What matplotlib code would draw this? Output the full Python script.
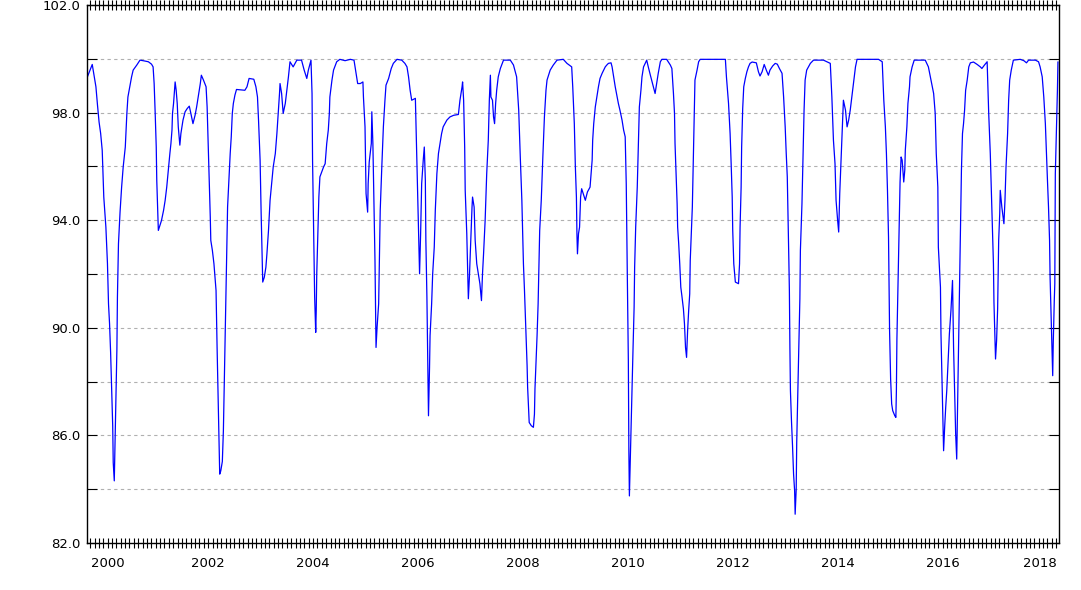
import numpy as np
import matplotlib
matplotlib.use("Agg")
import matplotlib.pyplot as plt
import matplotlib.transforms as mtransforms
from matplotlib.ticker import MultipleLocator, FixedLocator, FormatStrFormatter

# time in decimal years
years = [
    1999.70, 1999.79, 1999.83, 1999.86, 1999.89, 1999.92, 1999.95, 1999.98,
    2000.01, 2000.05, 2000.08, 2000.10, 2000.12, 2000.14, 2000.16, 2000.18, 2000.19, 2000.21,
    2000.22, 2000.24, 2000.26, 2000.27, 2000.29, 2000.32, 2000.35, 2000.38, 2000.42, 2000.45,
    2000.47, 2000.50, 2000.54, 2000.57, 2000.64, 2000.70, 2000.76, 2000.86, 2000.92, 2000.95,
    2000.97, 2000.99,
    2001.01, 2001.02, 2001.05, 2001.08, 2001.11, 2001.15, 2001.18, 2001.21, 2001.24, 2001.27,
    2001.29, 2001.31, 2001.32, 2001.34, 2001.37, 2001.39, 2001.41, 2001.43, 2001.46, 2001.48,
    2001.52, 2001.56, 2001.60, 2001.64, 2001.67, 2001.71, 2001.75, 2001.78, 2001.81, 2001.85,
    2001.87, 2001.91, 2001.96, 2001.98,
    2002.00, 2002.02, 2002.04, 2002.05, 2002.08, 2002.11, 2002.15, 2002.17, 2002.19, 2002.21,
    2002.22, 2002.24, 2002.27, 2002.29, 2002.31, 2002.33, 2002.35, 2002.37, 2002.40, 2002.42,
    2002.44, 2002.46, 2002.48, 2002.51, 2002.54, 2002.70, 2002.74, 2002.78, 2002.87, 2002.91,
    2002.94, 2002.96, 2002.99,
    2003.01, 2003.03, 2003.04, 2003.07, 2003.10, 2003.12, 2003.15, 2003.18, 2003.21, 2003.24,
    2003.28, 2003.31, 2003.34, 2003.36, 2003.37, 2003.40, 2003.43, 2003.47, 2003.50, 2003.53,
    2003.56, 2003.62, 2003.69, 2003.78, 2003.83, 2003.88, 2003.91, 2003.96, 2003.98, 2003.99,
    2004.01, 2004.03, 2004.05, 2004.06, 2004.07, 2004.09, 2004.11, 2004.13, 2004.20, 2004.23,
    2004.26, 2004.29, 2004.31, 2004.32, 2004.36, 2004.39, 2004.45, 2004.51, 2004.61, 2004.71,
    2004.78, 2004.82, 2004.85, 2004.90, 2004.95, 2004.96, 2004.99,
    2005.01, 2005.04, 2005.05, 2005.07, 2005.11, 2005.12, 2005.14, 2005.16, 2005.18, 2005.20,
    2005.22, 2005.25, 2005.28, 2005.31, 2005.34, 2005.37, 2005.39, 2005.44, 2005.49, 2005.53,
    2005.60, 2005.69, 2005.75, 2005.79, 2005.82, 2005.85, 2005.88, 2005.95, 2005.96, 2005.98,
    2006.00, 2006.02, 2006.03, 2006.05, 2006.07, 2006.10, 2006.12, 2006.14, 2006.15, 2006.17,
    2006.19, 2006.20, 2006.22, 2006.23, 2006.26, 2006.28, 2006.31, 2006.33, 2006.36, 2006.39,
    2006.42, 2006.45, 2006.48, 2006.55, 2006.61, 2006.68, 2006.77, 2006.80, 2006.84, 2006.85,
    2006.87, 2006.89, 2006.90, 2006.93, 2006.95, 2006.96, 2006.98,
    2007.01, 2007.03, 2007.04, 2007.07, 2007.09, 2007.12, 2007.15, 2007.18, 2007.21, 2007.23,
    2007.25, 2007.28, 2007.31, 2007.34, 2007.36, 2007.38, 2007.39, 2007.42, 2007.44, 2007.46,
    2007.48, 2007.50, 2007.53, 2007.57, 2007.63, 2007.76, 2007.82, 2007.88, 2007.92, 2007.95,
    2007.98,
    2008.01, 2008.03, 2008.05, 2008.08, 2008.09, 2008.11, 2008.12, 2008.16, 2008.20, 2008.22,
    2008.23, 2008.25, 2008.27, 2008.29, 2008.32, 2008.35, 2008.38, 2008.41, 2008.44, 2008.46,
    2008.52, 2008.58, 2008.65, 2008.77, 2008.84, 2008.93, 2008.95, 2008.98,
    2009.00, 2009.02, 2009.03, 2009.04, 2009.06, 2009.08, 2009.10, 2009.12, 2009.15, 2009.19,
    2009.23, 2009.28, 2009.30, 2009.32, 2009.33, 2009.35, 2009.38, 2009.41, 2009.44, 2009.47,
    2009.51, 2009.54, 2009.57, 2009.60, 2009.63, 2009.68, 2009.70, 2009.73, 2009.76, 2009.79,
    2009.82, 2009.85, 2009.89, 2009.92, 2009.95, 2009.97, 2009.98, 2009.99,
    2010.01, 2010.02, 2010.03, 2010.04, 2010.06, 2010.08, 2010.10, 2010.12, 2010.13, 2010.15,
    2010.18, 2010.20, 2010.22, 2010.25, 2010.27, 2010.30, 2010.33, 2010.36, 2010.39, 2010.43,
    2010.48, 2010.52, 2010.55, 2010.58, 2010.62, 2010.65, 2010.74, 2010.81, 2010.84, 2010.87,
    2010.89, 2010.90, 2010.92, 2010.94, 2010.95, 2010.97, 2010.99,
    2011.01, 2011.03, 2011.06, 2011.08, 2011.10, 2011.12, 2011.14, 2011.16, 2011.18, 2011.19,
    2011.21, 2011.23, 2011.25, 2011.27, 2011.28, 2011.32, 2011.35, 2011.38, 2011.86, 2011.88,
    2011.90, 2011.92, 2011.95, 2011.97, 2011.99,
    2012.00, 2012.02, 2012.05, 2012.11, 2012.13, 2012.14, 2012.16, 2012.17, 2012.19, 2012.21,
    2012.24, 2012.27, 2012.30, 2012.33, 2012.37, 2012.45, 2012.49, 2012.52, 2012.56, 2012.60,
    2012.64, 2012.68, 2012.71, 2012.76, 2012.81, 2012.85, 2012.89, 2012.94, 2012.97,
    2013.00, 2013.02, 2013.04, 2013.06, 2013.07, 2013.08, 2013.09, 2013.10, 2013.12, 2013.14,
    2013.16, 2013.18, 2013.19, 2013.21, 2013.22, 2013.24, 2013.26, 2013.28, 2013.29, 2013.32,
    2013.34, 2013.36, 2013.38, 2013.41, 2013.48, 2013.54, 2013.73, 2013.86, 2013.89, 2013.92,
    2013.95, 2013.97,
    2014.00, 2014.02, 2014.04, 2014.06, 2014.08, 2014.11, 2014.15, 2014.18, 2014.21, 2014.24,
    2014.27, 2014.30, 2014.34, 2014.37, 2014.78, 2014.85, 2014.88, 2014.91, 2014.93, 2014.95,
    2014.97, 2014.98, 2014.99,
    2015.01, 2015.03, 2015.05, 2015.09, 2015.11, 2015.12, 2015.13, 2015.15, 2015.17, 2015.19,
    2015.21, 2015.23, 2015.26, 2015.28, 2015.29, 2015.32, 2015.34, 2015.37, 2015.38, 2015.42,
    2015.46, 2015.67, 2015.73, 2015.78, 2015.83, 2015.86, 2015.88, 2015.91, 2015.92, 2015.96,
    2015.97, 2015.99,
    2016.01, 2016.02, 2016.04, 2016.06, 2016.08, 2016.11, 2016.13, 2016.16, 2016.19, 2016.21,
    2016.23, 2016.25, 2016.27, 2016.28, 2016.30, 2016.32, 2016.34, 2016.36, 2016.38, 2016.40,
    2016.42, 2016.44, 2016.47, 2016.50, 2016.53, 2016.59, 2016.66, 2016.72, 2016.75, 2016.80,
    2016.85, 2016.88, 2016.91, 2016.93, 2016.95, 2016.97, 2016.98,
    2017.00, 2017.01, 2017.03, 2017.05, 2017.07, 2017.09, 2017.10, 2017.13, 2017.17, 2017.19,
    2017.21, 2017.24, 2017.26, 2017.28, 2017.31, 2017.35, 2017.48, 2017.55, 2017.60, 2017.64,
    2017.77, 2017.83, 2017.86, 2017.90, 2017.93, 2017.96, 2017.98,
    2018.00, 2018.02, 2018.04, 2018.05, 2018.07, 2018.09, 2018.10, 2018.11, 2018.13, 2018.14,
    2018.15, 2018.17, 2018.19, 2018.20,
]

values = [
    99.34, 99.79, 99.31, 98.96, 98.28, 97.65, 97.23, 96.60,
    94.86, 93.74, 92.39, 90.89, 90.15, 89.09, 87.73, 86.36, 84.99, 84.31,
    85.32, 87.23, 89.21, 91.14, 93.13, 94.30, 95.23, 95.98, 96.72, 97.97,
    98.58, 98.90, 99.33, 99.58, 99.77, 99.95, 99.93, 99.89, 99.80, 99.70,
    99.08, 97.97,
    96.72, 95.48, 93.62, 93.81, 93.99, 94.37, 94.74, 95.23, 95.86, 96.48,
    96.85, 97.35, 97.97, 98.34, 99.14, 98.83, 98.34, 97.47, 96.79, 97.22,
    97.72, 98.03, 98.15, 98.24, 97.97, 97.59, 97.90, 98.21, 98.58, 99.08,
    99.39, 99.21, 98.96, 98.21,
    96.85, 95.48, 94.12, 93.25, 92.88, 92.38, 91.39, 89.27, 87.41, 85.49,
    84.56, 84.68, 85.03, 86.17, 88.22, 90.33, 92.38, 94.49, 95.73, 96.48,
    97.10, 97.97, 98.34, 98.65, 98.86, 98.83, 98.96, 99.27, 99.24, 98.96,
    98.58, 97.72, 96.23,
    94.24, 92.50, 91.70, 91.88, 92.25, 92.75, 93.62, 94.74, 95.36, 95.98,
    96.48, 97.22, 98.09, 98.71, 99.08, 98.71, 97.97, 98.34, 98.83, 99.33,
    99.89, 99.70, 99.95, 99.95, 99.58, 99.27, 99.58, 99.95, 98.71, 96.23,
    93.62, 91.14, 89.83, 90.64, 92.01, 93.50, 94.86, 95.61, 95.98, 96.10,
    96.85, 97.35, 97.97, 98.58, 99.21, 99.58, 99.89, 99.98, 99.93, 99.98,
    99.95, 99.46, 99.08, 99.08, 99.14, 98.58, 97.47,
    94.99, 94.30, 95.36, 96.16, 96.85, 98.03, 96.85, 94.74, 92.50, 89.27,
    90.02, 90.89, 94.37, 95.98, 97.47, 98.46, 99.02, 99.27, 99.64, 99.83,
    99.98, 99.95, 99.83, 99.70, 99.33, 98.83, 98.46, 98.53, 97.72, 96.10,
    94.49, 92.88, 92.01, 93.50, 95.36, 96.23, 96.72, 95.48, 93.25, 91.14,
    88.03, 86.73, 88.53, 89.71, 90.89, 92.01, 93.00, 94.37, 95.73, 96.48,
    96.85, 97.22, 97.47, 97.72, 97.84, 97.90, 97.93, 98.46, 98.96, 99.14,
    98.46, 96.72, 95.11, 93.50, 91.88, 91.08, 91.88,
    93.50, 94.49, 94.86, 94.49, 93.25, 92.38, 92.01, 91.64, 91.01, 92.01,
    92.75, 93.99, 95.73, 96.97, 98.46, 99.39, 98.58, 98.46, 97.84, 97.59,
    98.34, 98.83, 99.33, 99.64, 99.95, 99.95, 99.77, 99.33, 98.09, 96.35,
    94.74,
    92.38, 91.39, 90.27, 88.59, 87.79, 86.92, 86.48, 86.36, 86.30, 86.79,
    87.73, 88.72, 89.71, 90.89, 93.62, 94.74, 96.35, 97.84, 98.83, 99.21,
    99.58, 99.77, 99.95, 99.98, 99.83, 99.70, 98.96, 97.59,
    95.98, 94.86, 93.50, 92.75, 93.50, 93.74, 94.86, 95.17, 94.99, 94.74,
    95.05, 95.23, 95.73, 96.23, 96.97, 97.59, 98.21, 98.58, 98.96, 99.27,
    99.46, 99.58, 99.70, 99.77, 99.83, 99.85, 99.70, 99.33, 98.96, 98.65,
    98.34, 98.09, 97.72, 97.35, 97.10, 95.36, 93.50, 92.01,
    88.78, 85.43, 83.75, 84.56, 86.05, 87.66, 89.27, 90.76, 92.25, 93.74,
    95.23, 96.72, 98.21, 98.83, 99.33, 99.70, 99.83, 99.95, 99.70, 99.39,
    99.02, 98.71, 99.08, 99.46, 99.89, 99.98, 99.98, 99.77, 99.64, 98.71,
    97.97, 96.85, 95.73, 94.61, 93.74, 93.13, 92.38,
    91.51, 91.20, 90.70, 90.15, 89.27, 88.90, 89.90, 90.64, 91.26, 92.50,
    93.50, 94.49, 96.35, 98.21, 99.21, 99.58, 99.89, 99.98, 99.98, 99.33,
    98.83, 98.34, 97.22, 96.10, 94.86,
    93.62, 92.38, 91.70, 91.64, 92.38, 93.74, 95.23, 96.72, 98.15, 98.96,
    99.27, 99.52, 99.70, 99.83, 99.88, 99.85, 99.52, 99.36, 99.52, 99.79,
    99.58, 99.39, 99.58, 99.73, 99.83, 99.80, 99.64, 99.46, 98.58,
    97.47, 96.48, 95.61, 93.62, 92.50, 91.39, 89.27, 87.66, 86.54, 85.61,
    84.56, 83.94, 83.07, 84.00, 85.74, 87.54, 89.27, 91.08, 92.88, 94.62,
    96.35, 98.09, 99.21, 99.58, 99.83, 99.95, 99.95, 99.83, 98.58, 96.97,
    96.10, 94.74,
    93.99, 93.56, 94.99, 95.98, 96.97, 98.46, 98.09, 97.47, 97.72, 98.09,
    98.58, 99.08, 99.70, 99.98, 99.98, 99.89, 98.46, 97.47, 96.48, 95.11,
    93.37, 91.64, 89.90,
    88.10, 87.17, 86.92, 86.73, 86.67, 87.66, 89.59, 91.51, 93.50, 95.42,
    96.35, 96.23, 95.42, 95.86, 96.60, 97.47, 98.34, 98.96, 99.33, 99.70,
    99.95, 99.95, 99.70, 99.21, 98.71, 97.97, 96.48, 95.23, 93.00, 91.51,
    89.77, 88.03,
    86.36, 85.43, 86.30, 87.04, 87.66, 88.90, 89.77, 90.64, 91.76, 89.27,
    87.66, 86.05, 85.12, 86.36, 88.72, 91.08, 93.50, 95.86, 97.22, 97.59,
    98.09, 98.83, 99.21, 99.70, 99.85, 99.88, 99.79, 99.70, 99.64, 99.77,
    99.89, 97.97, 96.48, 95.11, 93.74, 92.38, 90.95,
    89.52, 88.84, 89.52, 90.70, 93.25, 94.24, 95.11, 94.49, 93.87, 94.74,
    95.98, 97.22, 98.46, 99.21, 99.58, 99.95, 99.98, 99.93, 99.85, 99.95,
    99.95, 99.89, 99.70, 99.33, 98.58, 97.59, 96.48,
    95.48, 94.49, 93.25, 91.88, 90.39, 88.97, 88.22, 89.40, 91.01, 91.64,
    95.73, 97.22, 98.83, 99.88,
]

year_labels = [2000, 2002, 2004, 2006, 2008, 2010, 2012, 2014, 2016, 2018]
y_labelled = [82, 86, 90, 94, 98, 102]
y_between = [84, 88, 92, 96, 100]

fig = plt.figure(figsize=(10.81, 5.90), dpi=100)
ax = fig.add_axes([87 / 1081, 1 - 543 / 590, (1059 - 87) / 1081, (543 - 5) / 590])

ax.plot(years, values, color="#0000ff", lw=0.9)

ax.set_xlim(1999.69, 2018.22)
ax.set_ylim(82, 102)

# x axis: label every 2 years, tick every month
ax.set_xticks(year_labels)
ax.set_xticklabels([str(y) for y in year_labels])
ax.xaxis.set_minor_locator(MultipleLocator(1 / 12))
ax.tick_params(axis="x", which="both", direction="inout", length=7.2, width=0.8,
               top=True, bottom=True, labelsize=9.5, pad=6.5)

# end labels are nudged inside the frame, as in the original
labs = ax.get_xticklabels()
labs[0].set_transform(labs[0].get_transform() +
                      mtransforms.ScaledTranslation(5 / 100, 0, fig.dpi_scale_trans))
labs[-1].set_transform(labs[-1].get_transform() +
                       mtransforms.ScaledTranslation(-8 / 100, 0, fig.dpi_scale_trans))

# y axis: label every 4, gridline every 2
ax.yaxis.set_major_locator(FixedLocator(y_labelled))
ax.yaxis.set_minor_locator(FixedLocator(y_between))
ax.yaxis.set_major_formatter(FormatStrFormatter("%.1f"))
ax.tick_params(axis="y", which="both", direction="in", length=7.2, width=0.8,
               left=True, right=True, labelsize=9.5, pad=5)
ax.grid(axis="y", which="both", color="#b0b0b0", linestyle=(0, (3, 3)), lw=0.8)

for s in ax.spines.values():
    s.set_linewidth(1.0)

fig.savefig("out.png", dpi=100)
